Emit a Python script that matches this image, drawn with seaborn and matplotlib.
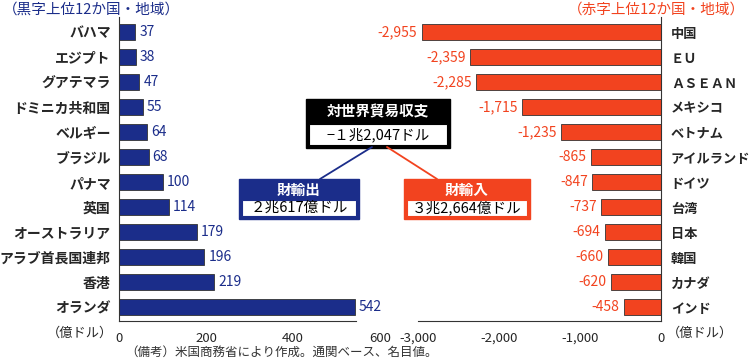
import matplotlib
matplotlib.use('Agg')
import matplotlib.pyplot as plt
import seaborn as sns
from matplotlib.patches import Rectangle
from matplotlib.lines import Line2D

# Data
surplus_names = ['バハマ', 'エジプト', 'グアテマラ', 'ドミニカ共和国', 'ベルギー', 'ブラジル',
                 'パナマ', '英国', 'オーストラリア', 'アラブ首長国連邦', '香港', 'オランダ']
surplus_vals = [37, 38, 47, 55, 64, 68, 100, 114, 179, 196, 219, 542]
deficit_names = ['中国', 'ＥＵ', 'ＡＳＥＡＮ', 'メキシコ', 'ベトナム', 'アイルランド',
                 'ドイツ', '台湾', '日本', '韓国', 'カナダ', 'インド']
deficit_vals = [-2955, -2359, -2285, -1715, -1235, -865, -847, -737, -694, -660, -620, -458]
left_ticks = [0, 200, 400, 600]
right_ticks = [-3000, -2000, -1000, 0]

BLUE = '#1b2d8a'
RED = '#f2431f'

sns.set_style('white')
plt.rcParams['font.family'] = ['Noto Sans CJK JP', 'DejaVu Sans']

W, H = 752, 362
fig = plt.figure(figsize=(W / 100, H / 100), dpi=100)


def fx(x):
    return x / W


def fy(y):
    return 1 - y / H


top, bot = 17, 321
ax1 = fig.add_axes([fx(119), fy(bot), fx(380 - 119), (bot - top) / H])
ax2 = fig.add_axes([fx(418), fy(bot), fx(661 - 418), (bot - top) / H])

# surplus
sns.barplot(x=surplus_vals, y=surplus_names, color=BLUE, saturation=1, width=0.64,
            edgecolor='#333333', linewidth=0.6, orient='h', ax=ax1)
ax1.set_xlim(0, 600)
ax1.set_ylim(11.55, -0.6)
ax1.bar_label(ax1.containers[0], labels=[f'{v:,}' for v in surplus_vals],
              padding=3, color=BLUE, fontsize=10)
ax1.set_xticks(left_ticks)
ax1.set_xticklabels([str(t) for t in left_ticks])
for s in ['top', 'right']:
    ax1.spines[s].set_visible(False)
ax1.spines['bottom'].set_bounds(0, 545)
ax1.tick_params(axis='y', length=0, pad=6, labelsize=10)
ax1.tick_params(axis='x', direction='in', length=4, pad=8, labelsize=9.5, width=0.8)
for lab in ax1.get_yticklabels():
    lab.set_fontweight('bold')

# deficit
sns.barplot(x=deficit_vals, y=deficit_names, color=RED, saturation=1, width=0.64,
            edgecolor='#333333', linewidth=0.6, orient='h', ax=ax2)
ax2.set_xlim(-3000, 0)
ax2.set_ylim(11.55, -0.6)
ax2.bar_label(ax2.containers[0], labels=[f'{v:,}' for v in deficit_vals],
              padding=3, color=RED, fontsize=10)
ax2.set_xticks(right_ticks)
ax2.set_xticklabels([f'{t:,}' for t in right_ticks])
ax2.yaxis.tick_right()
for s in ['top', 'left']:
    ax2.spines[s].set_visible(False)
ax2.tick_params(axis='y', length=0, pad=7, labelsize=9.5)
ax2.tick_params(axis='x', direction='in', length=4, pad=8, labelsize=9.5, width=0.8)
for lab in ax2.get_yticklabels():
    lab.set_fontweight('bold')

for ax in (ax1, ax2):
    ax.set_xlabel('')
    ax.set_ylabel('')
    ax.patch.set_alpha(0)
    for s in ax.spines.values():
        s.set_color('#333333')
        s.set_linewidth(0.8)

# headings and units
fig.text(fx(3), fy(10), '（黒字上位12か国・地域）', color=BLUE, fontsize=10.5, va='center')
fig.text(fx(745), fy(10), '（赤字上位12か国・地域）', color=RED, fontsize=10.5, va='center', ha='right')
fig.text(fx(113), fy(333), '（億ドル）', fontsize=9.5, va='center', ha='right')
fig.text(fx(667), fy(333), '（億ドル）', fontsize=9.5, va='center', ha='left')
fig.text(fx(125), fy(352), '（備考）米国商務省により作成。通関ベース、名目値。', fontsize=9,
         va='center', color='#333333')


def rect(x0, y0, x1, y1, fc, ec, lw):
    fig.add_artist(Rectangle((fx(x0), fy(y1)), fx(x1 - x0), (y1 - y0) / H,
                             transform=fig.transFigure, facecolor=fc, edgecolor=ec, linewidth=lw))


def box(x0, y0, x1, y1, color, head, body):
    rect(x0, y0, x1, y1, color, color, 1)
    mid = (y0 + y1) / 2 + 1
    rect(x0 + 3, mid, x1 - 3, y1 - 3, 'white', color, 0.8)
    fig.text(fx((x0 + x1) / 2), fy((y0 + mid) / 2), head, color='white', fontsize=10.5,
             fontweight='bold', ha='center', va='center')
    fig.text(fx((x0 + x1) / 2), fy((mid + y1 - 3) / 2), body, color='black', fontsize=10.5,
             ha='center', va='center')


# connector lines
fig.add_artist(Line2D([fx(372), fx(320)], [fy(147), fy(179)], color=BLUE, lw=1.3,
                      transform=fig.transFigure))
fig.add_artist(Line2D([fx(387), fx(437)], [fy(147), fy(179)], color=RED, lw=1.3,
                      transform=fig.transFigure))

box(306, 99, 450, 148, 'black', '対世界貿易収支', '−１兆2,047ドル')
box(239, 179, 359, 219, BLUE, '財輸出', '２兆617億ドル')
box(404, 179, 530, 219, RED, '財輸入', '３兆2,664億ドル')

plt.savefig('out.png', dpi=100)
